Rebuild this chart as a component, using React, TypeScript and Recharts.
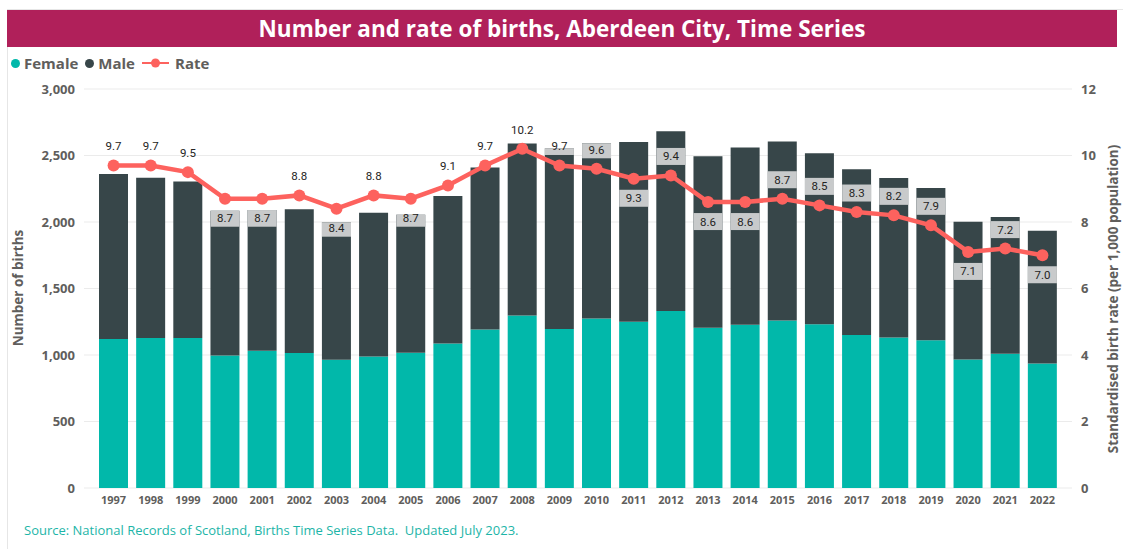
import { ComposedChart, Bar, Line, XAxis, YAxis, CartesianGrid, LabelList } from 'recharts';

const YEARS = ['1997', '1998', '1999', '2000', '2001', '2002', '2003', '2004', '2005', '2006', '2007', '2008', '2009', '2010', '2011', '2012', '2013', '2014', '2015', '2016', '2017', '2018', '2019', '2020', '2021', '2022'];
const FEMALE = [1120, 1128, 1128, 997, 1032, 1015, 965, 988, 1017, 1087, 1192, 1297, 1195, 1275, 1250, 1330, 1205, 1227, 1260, 1232, 1150, 1132, 1110, 967, 1010, 937];
const MALE = [1240, 1204, 1177, 1088, 1058, 1080, 1033, 1082, 1038, 1108, 1218, 1293, 1360, 1317, 1352, 1353, 1290, 1333, 1345, 1285, 1247, 1198, 1145, 1035, 1027, 998];
const RATE = [9.7, 9.7, 9.5, 8.7, 8.7, 8.8, 8.4, 8.8, 8.7, 9.1, 9.7, 10.2, 9.7, 9.6, 9.3, 9.4, 8.6, 8.6, 8.7, 8.5, 8.3, 8.2, 7.9, 7.1, 7.2, 7.0];
const LEFT_TICKS = [0, 500, 1000, 1500, 2000, 2500, 3000];
const RIGHT_TICKS = [0, 2, 4, 6, 8, 10, 12];
// years whose rate label sits under the point
const LABEL_BELOW = ['2000', '2001', '2003', '2005', '2011', '2013', '2014', '2020', '2022'];

const data = YEARS.map((year, i) => ({ year, female: FEMALE[i], male: MALE[i], rate: RATE[i] }));

const TEAL = '#01b8aa';
const DARK = '#374649';
const RED = '#fd625e';
const AXIS_GREY = '#605e5c';
const FONT = '"Open Sans", "Noto Sans", sans-serif';

const PLOT_TOP = 89;
const PLOT_BOTTOM = 488;

const RateLabel = (props: any) => {
  const { x, y, value, index } = props;
  const year = YEARS[index];
  const below = LABEL_BELOW.includes(year);
  const cy = below ? y + 19.5 : y - 19;
  const total = FEMALE[index] + MALE[index];
  const barTop = PLOT_BOTTOM - (total * (PLOT_BOTTOM - PLOT_TOP)) / 3000;
  const boxTop = cy - 8.5;
  const boxBottom = cy + 8.5;
  const showBox = boxBottom > barTop + 3;
  const top = Math.max(boxTop, barTop);
  return (
    <g>
      {showBox && <rect x={x - 14.5} y={top} width={29} height={boxBottom - top} fill="#c8cacb" />}
      <text x={x} y={cy} textAnchor="middle" dominantBaseline="central" fontSize={11.5} fontFamily="Roboto, sans-serif" fill="#252423">
        {Number(value).toFixed(1)}
      </text>
    </g>
  );
};

export default function App() {
  return (
    <div style={{ position: 'absolute', left: 0, top: 0, width: 1123, height: 549, background: '#fff', fontFamily: FONT, overflow: 'hidden' }}>
      <div style={{ position: 'absolute', left: 7, top: 9, width: 1116, height: 540, borderLeft: '1px solid #e6e6e6', borderTop: '1px solid #e6e6e6' }} />
      <div style={{ position: 'absolute', left: 0, top: 0 }}>
        <ComposedChart width={1123} height={549} data={data} margin={{ top: PLOT_TOP, right: 0, bottom: 31, left: 0 }}>
          <CartesianGrid yAxisId="left" vertical={false} stroke="#ebebeb" />
          <XAxis
            dataKey="year"
            axisLine={false}
            tickLine={false}
            tickSize={0}
            tickMargin={8}
            height={30}
            padding={{ left: 11, right: 11 }}
            interval={0}
            tick={{ fontSize: 11, fontWeight: 700, fill: AXIS_GREY, fontFamily: FONT }}
          />
          <YAxis
            yAxisId="left"
            domain={[0, 3000]}
            ticks={LEFT_TICKS}
            width={84}
            axisLine={false}
            tickLine={false}
            tickSize={0}
            tickMargin={9}
            tickFormatter={(v: number) => v.toLocaleString('en-GB')}
            tick={{ fontSize: 13, fontWeight: 700, fill: AXIS_GREY, fontFamily: FONT }}
          />
          <YAxis
            yAxisId="right"
            orientation="right"
            domain={[0, 12]}
            ticks={RIGHT_TICKS}
            width={51}
            axisLine={false}
            tickLine={false}
            tickSize={0}
            tickMargin={9}
            tick={{ fontSize: 13, fontWeight: 700, fill: AXIS_GREY, fontFamily: FONT }}
          />
          <Bar yAxisId="left" dataKey="female" stackId="a" fill={TEAL} barSize={29} isAnimationActive={false} />
          <Bar yAxisId="left" dataKey="male" stackId="a" fill={DARK} barSize={29} isAnimationActive={false} />
          <Line
            yAxisId="right"
            dataKey="rate"
            stroke={RED}
            strokeWidth={4.5}
            dot={{ r: 6, fill: RED, stroke: 'none' }}
            activeDot={false}
            isAnimationActive={false}
          >
            <LabelList dataKey="rate" content={RateLabel} />
          </Line>
        </ComposedChart>
      </div>

      {/* title bar */}
      <div style={{ position: 'absolute', left: 7, top: 10, width: 1110, height: 37, background: '#b0205a', color: '#fff', fontWeight: 700, fontSize: 22.5, lineHeight: '37px', textAlign: 'center', fontFamily: FONT }}>
        Number and rate of births, Aberdeen City, Time Series
      </div>

      {/* legend */}
      <div style={{ position: 'absolute', left: 11, top: 53, height: 20, display: 'flex', alignItems: 'center', fontSize: 15, fontWeight: 700, color: AXIS_GREY }}>
        <span style={{ width: 9, height: 9, borderRadius: '50%', background: TEAL, display: 'inline-block', marginRight: 4 }} />
        <span style={{ marginRight: 7 }}>Female</span>
        <span style={{ width: 9, height: 9, borderRadius: '50%', background: DARK, display: 'inline-block', marginRight: 4 }} />
        <span style={{ marginRight: 7 }}>Male</span>
        <svg width={27} height={12} style={{ marginRight: 6 }}>
          <line x1={0} y1={6} x2={27} y2={6} stroke={RED} strokeWidth={2} />
          <circle cx={13.5} cy={6} r={4.5} fill={RED} />
        </svg>
        <span>Rate</span>
      </div>

      {/* axis titles */}
      <div style={{ position: 'absolute', left: 18, top: 288, transform: 'translate(-50%, -50%) rotate(-90deg)', whiteSpace: 'nowrap', fontSize: 13.5, fontWeight: 700, color: AXIS_GREY }}>
        Number of births
      </div>
      <div style={{ position: 'absolute', left: 1113, top: 299, transform: 'translate(-50%, -50%) rotate(-90deg)', whiteSpace: 'nowrap', fontSize: 13.5, fontWeight: 700, color: AXIS_GREY }}>
        Standardised birth rate (per 1,000 population)
      </div>

      {/* source */}
      <div style={{ position: 'absolute', left: 24, top: 521, fontSize: 13, color: '#1db5a8', whiteSpace: 'pre' }}>
        Source: National Records of Scotland, Births Time Series Data.  Updated July 2023.
      </div>
    </div>
  );
}
